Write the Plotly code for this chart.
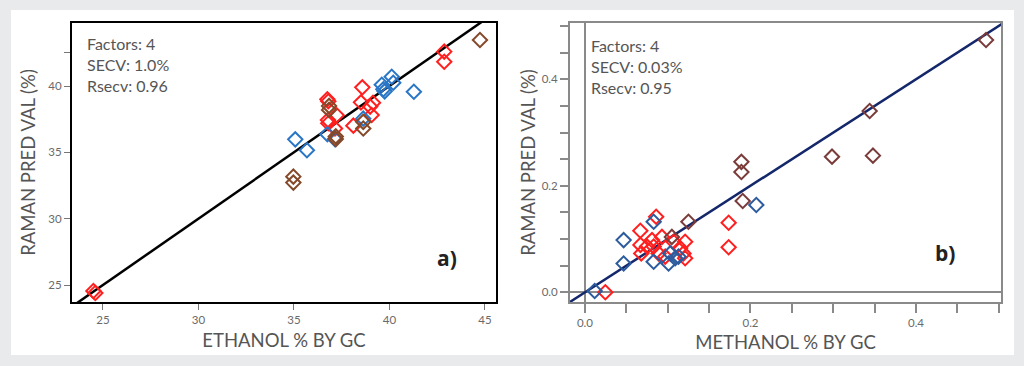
import plotly.graph_objects as go

W, H = 1024, 366

# ---- Panel a) ethanol ----
eth_red_x = [24.5, 24.6, 36.75, 36.8, 36.78, 36.8, 37.24, 37.15, 38.11, 38.58, 38.51, 38.99, 39.14, 39.07, 42.87, 42.87]
eth_red_y = [24.55, 24.4, 39.0, 38.85, 37.44, 37.19, 37.8, 36.8, 37.01, 39.9, 38.77, 38.45, 38.74, 37.82, 42.59, 41.83]
eth_blue_x = [35.07, 35.68, 36.75, 37.15, 38.63, 39.68, 39.75, 39.6, 40.12, 40.2, 41.28]
eth_blue_y = [35.98, 35.16, 36.36, 36.0, 37.54, 39.75, 39.6, 40.1, 40.7, 40.25, 39.57]
eth_brown_x = [34.97, 34.97, 36.84, 36.84, 37.19, 37.19, 38.63, 38.63, 44.74]
eth_brown_y = [33.17, 32.72, 38.5, 38.2, 36.2, 36.0, 37.3, 36.8, 43.47]
eth_fit = [20, 50]
eth_ticks = [25, 30, 35, 40, 45]

# ---- Panel b) methanol ----
met_red_x = [0.0246, 0.0669, 0.067, 0.068, 0.075, 0.081, 0.083, 0.086, 0.093, 0.089, 0.097, 0.107, 0.121, 0.119, 0.121, 0.115, 0.1736, 0.1736]
met_red_y = [0.0, 0.1157, 0.089, 0.073, 0.086, 0.098, 0.086, 0.142, 0.104, 0.073, 0.067, 0.095, 0.095, 0.073, 0.064, 0.083, 0.1307, 0.0845]
met_blue_x = [0.0117, 0.0467, 0.0467, 0.083, 0.083, 0.101, 0.103, 0.109, 0.113, 0.207]
met_blue_y = [0.0024, 0.098, 0.054, 0.1326, 0.0575, 0.054, 0.073, 0.064, 0.067, 0.164]
met_brown_x = [0.105, 0.125, 0.189, 0.189, 0.1906, 0.2985, 0.348, 0.344, 0.4846]
met_brown_y = [0.104, 0.1326, 0.245, 0.226, 0.1714, 0.2547, 0.2566, 0.3405, 0.4738]
met_fit = [-0.05, 0.55]
met_ticks = [round(i * 0.05, 2) for i in range(11)]
met_labels = ["0.0" if v == 0 else ("0.2" if v == 0.2 else ("0.4" if v == 0.4 else "")) for v in met_ticks]

FONT = "Lato"
TXT = "#555555"

def px_x(p):
    return p / W

def px_y(p):
    return 1 - p / H

fig = go.Figure()

def mk(color):
    return dict(symbol="diamond-open", size=11, color=color, line=dict(width=2, color=color))

# panel a traces
fig.add_trace(go.Scatter(x=eth_fit, y=eth_fit, mode="lines", line=dict(color="black", width=2.5), xaxis="x", yaxis="y", showlegend=False))
fig.add_trace(go.Scatter(x=eth_red_x, y=eth_red_y, mode="markers", marker=mk("#ff1f1f"), xaxis="x", yaxis="y", showlegend=False))
fig.add_trace(go.Scatter(x=eth_blue_x, y=eth_blue_y, mode="markers", marker=mk("#2a76c6"), xaxis="x", yaxis="y", showlegend=False))
fig.add_trace(go.Scatter(x=eth_brown_x, y=eth_brown_y, mode="markers", marker=mk("#85492a"), xaxis="x", yaxis="y", showlegend=False))

# panel b traces
fig.add_trace(go.Scatter(x=met_fit, y=met_fit, mode="lines", line=dict(color="#14276b", width=2.5), xaxis="x2", yaxis="y2", showlegend=False))
fig.add_trace(go.Scatter(x=met_red_x, y=met_red_y, mode="markers", marker=mk("#ff1f1f"), xaxis="x2", yaxis="y2", showlegend=False))
fig.add_trace(go.Scatter(x=met_blue_x, y=met_blue_y, mode="markers", marker=mk("#2d5c9e"), xaxis="x2", yaxis="y2", showlegend=False))
fig.add_trace(go.Scatter(x=met_brown_x, y=met_brown_y, mode="markers", marker=mk("#7a3c3a"), xaxis="x2", yaxis="y2", showlegend=False))

tickfont = dict(family=FONT, size=11.5, color="#6a6a6a")
titlefont = dict(family=FONT, size=18.5, color=TXT)

fig.update_layout(
    width=W, height=H,
    margin=dict(l=0, r=0, t=0, b=0),
    paper_bgcolor="#e9eaec",
    plot_bgcolor="white",
    hovermode=False,
    xaxis=dict(
        domain=[px_x(72), px_x(496)], anchor="y",
        range=[23.38, 45.58], tickvals=eth_ticks,
        showgrid=False, zeroline=False,
        showline=True, linecolor="black", linewidth=2, mirror=True,
        ticks="outside", ticklen=6, tickcolor="#777777", tickwidth=1,
        tickfont=tickfont,
        title=dict(text="ETHANOL % BY GC", font=titlefont, standoff=9),
    ),
    yaxis=dict(
        domain=[px_y(302), px_y(23)], anchor="x",
        range=[23.72, 44.75], tickvals=[25, 30, 35, 40, 42.5], ticktext=["25", "30", "35", "40", ""],
        showgrid=False, zeroline=False,
        showline=True, linecolor="black", linewidth=2, mirror=True,
        ticks="outside", ticklen=6, tickcolor="#777777", tickwidth=1,
        tickfont=tickfont,
        title=dict(text="RAMAN PRED VAL (%)", font=titlefont, standoff=8),
    ),
    xaxis2=dict(
        domain=[px_x(570), px_x(1001)], anchor="y2",
        range=[-0.0181, 0.5027], tickvals=met_ticks, ticktext=met_labels,
        showgrid=False, zeroline=True, zerolinecolor="#8a8a8a", zerolinewidth=2,
        showline=True, linecolor="#8a8a8a", linewidth=2, mirror=True,
        ticks="outside", ticklen=9, tickcolor="#8a8a8a", tickwidth=1.5,
        tickfont=tickfont,
        title=dict(text="METHANOL % BY GC", font=titlefont, standoff=8),
    ),
    yaxis2=dict(
        domain=[px_y(302), px_y(23)], anchor="x2",
        range=[-0.0182, 0.5057], tickvals=met_ticks, ticktext=met_labels,
        showgrid=False, zeroline=True, zerolinecolor="#8a8a8a", zerolinewidth=2,
        showline=True, linecolor="#8a8a8a", linewidth=2, mirror=True,
        ticks="outside", ticklen=8, tickcolor="#8a8a8a", tickwidth=1.5,
        tickfont=tickfont,
        title=dict(text="RAMAN PRED VAL (%)", font=titlefont, standoff=1),
    ),
    shapes=[
        dict(type="rect", xref="paper", yref="paper",
             x0=px_x(11), x1=px_x(1014), y0=px_y(355), y1=px_y(10),
             fillcolor="white", line=dict(width=0), layer="below"),
    ],
)

ann_font = dict(family=FONT, size=16, color=TXT)
fig.add_annotation(xref="paper", yref="paper", x=px_x(85), y=px_y(32), xanchor="left", yanchor="top",
                   text="Factors: 4<br>SECV: 1.0%<br>Rsecv: 0.96", showarrow=False, align="left",
                   font=ann_font)
fig.add_annotation(xref="paper", yref="paper", x=px_x(589), y=px_y(34), xanchor="left", yanchor="top",
                   text="Factors: 4<br>SECV: 0.03%<br>Rsecv: 0.95", showarrow=False, align="left",
                   font=ann_font)
fig.add_annotation(xref="paper", yref="paper", x=px_x(447), y=px_y(258), xanchor="center", yanchor="middle",
                   text="<b>a)</b>", showarrow=False, font=dict(family="Open Sans", size=21, color="#222222"))
fig.add_annotation(xref="paper", yref="paper", x=px_x(945), y=px_y(253), xanchor="center", yanchor="middle",
                   text="<b>b)</b>", showarrow=False, font=dict(family="Open Sans", size=21, color="#222222"))

fig.write_html(
    "out.html",
    config={"displayModeBar": False},
    post_script="document.body.style.margin='0';document.body.style.overflow='hidden';document.body.style.background='#e9eaec';",
)
